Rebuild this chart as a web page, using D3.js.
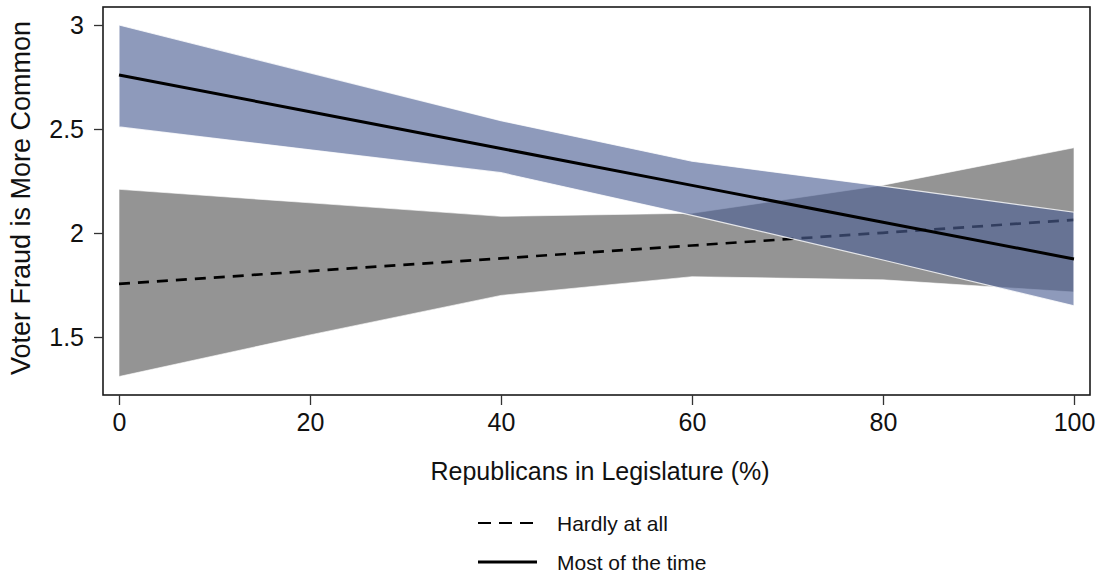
<!DOCTYPE html>
<html>
<head>
<meta charset="utf-8">
<script src="https://cdn.jsdelivr.net/npm/d3@7"></script>
<style>
  html, body { margin: 0; padding: 0; background: #fff; }
  svg { display: block; font-family: "Liberation Sans", Arial, Helvetica, sans-serif; }
</style>
</head>
<body>
<svg id="chart" width="1104" height="580"></svg>
<script>
// ---- data ----
const xValues = [0, 20, 40, 60, 80, 100];
const mostUpper = [3.00, 2.77, 2.54, 2.345, 2.225, 2.10];
const mostLower = [2.51, 2.40, 2.29, 2.085, 1.87, 1.65];
const mostFit   = [2.76, 2.583, 2.406, 2.229, 2.052, 1.875];
const hardUpper = [2.21, 2.145, 2.08, 2.095, 2.23, 2.41];
const hardLower = [1.31, 1.51, 1.70, 1.79, 1.775, 1.716];
const hardFit   = [1.755, 1.817, 1.878, 1.94, 2.001, 2.063];
const xTicks = [0, 20, 40, 60, 80, 100];
const yTicks = [1.5, 2, 2.5, 3];
const seriesNames = ["Hardly at all", "Most of the time"];
const xTitle = "Republicans in Legislature (%)";
const yTitle = "Voter Fraud is More Common";

// ---- layout ----
const svg = d3.select("#chart");
const frame = { left: 103, right: 1090, top: 7, bottom: 395 };
const x = d3.scaleLinear().domain([0, 100]).range([119, 1074]);
const y = d3.scaleLinear().domain([1.5, 3]).range([337, 25]);

const rows = (lo, hi, fit) => xValues.map((v, i) => ({ x: v, lo: lo[i], hi: hi[i], fit: fit[i] }));
const hard = rows(hardLower, hardUpper, hardFit);
const most = rows(mostLower, mostUpper, mostFit);

const area = d3.area().x(d => x(d.x)).y0(d => y(d.lo)).y1(d => y(d.hi));
const line = d3.line().x(d => x(d.x)).y(d => y(d.fit));

// gray band
svg.append("path").datum(hard).attr("d", area)
  .attr("fill", "#949494").attr("stroke", "#ffffff").attr("stroke-opacity", 0.6).attr("stroke-width", 1);
// dashed line
svg.append("path").datum(hard).attr("d", line)
  .attr("fill", "none").attr("stroke", "#000").attr("stroke-width", 2.7).attr("stroke-dasharray", "11,8");
// blue band (semi-transparent)
svg.append("path").datum(most).attr("d", area)
  .attr("fill", "rgb(78,97,149)").attr("fill-opacity", 0.64)
  .attr("stroke", "#ffffff").attr("stroke-opacity", 0.8).attr("stroke-width", 1.2);
// solid line
svg.append("path").datum(most).attr("d", line)
  .attr("fill", "none").attr("stroke", "#000").attr("stroke-width", 3);

// frame
svg.append("rect")
  .attr("x", frame.left).attr("y", frame.top)
  .attr("width", frame.right - frame.left).attr("height", frame.bottom - frame.top)
  .attr("fill", "none").attr("stroke", "#1a1a1a").attr("stroke-width", 1.6);

// y axis
const yAxis = d3.axisLeft(y).tickValues(yTicks).tickSize(9).tickPadding(10)
  .tickFormat(d3.format("~g"));
const gy = svg.append("g").attr("transform", `translate(${frame.left},0)`).call(yAxis);
gy.select(".domain").remove();
gy.selectAll(".tick line").attr("stroke", "#333").attr("stroke-width", 1.3);
gy.selectAll(".tick text").attr("font-size", 25).attr("fill", "#111")
  .attr("font-family", "Liberation Sans, Arial, sans-serif");

// x axis
const xAxis = d3.axisBottom(x).tickValues(xTicks).tickSize(10).tickPadding(8);
const gx = svg.append("g").attr("transform", `translate(0,${frame.bottom})`).call(xAxis);
gx.select(".domain").remove();
gx.selectAll(".tick line").attr("stroke", "#333").attr("stroke-width", 1.3);
gx.selectAll(".tick text").attr("font-size", 25).attr("fill", "#111")
  .attr("font-family", "Liberation Sans, Arial, sans-serif");

// titles
svg.append("text").attr("x", 600).attr("y", 480).attr("text-anchor", "middle")
  .attr("font-size", 25).attr("fill", "#111").text(xTitle);
svg.append("text").attr("transform", "translate(30,198) rotate(-90)").attr("text-anchor", "middle")
  .attr("font-size", 27).attr("fill", "#111").text(yTitle);

// legend
const legend = svg.append("g");
const legRows = [
  { name: seriesNames[0], y: 523, dash: "13,8", w: 2.2 },
  { name: seriesNames[1], y: 562, dash: null, w: 3 }
];
legRows.forEach(r => {
  legend.append("line").attr("x1", 478).attr("x2", 537).attr("y1", r.y).attr("y2", r.y)
    .attr("stroke", "#000").attr("stroke-width", r.w)
    .attr("stroke-dasharray", r.dash);
  legend.append("text").attr("x", 557).attr("y", r.y + 7.5)
    .attr("font-size", 21).attr("fill", "#111").text(r.name);
});
</script>
</body>
</html>
